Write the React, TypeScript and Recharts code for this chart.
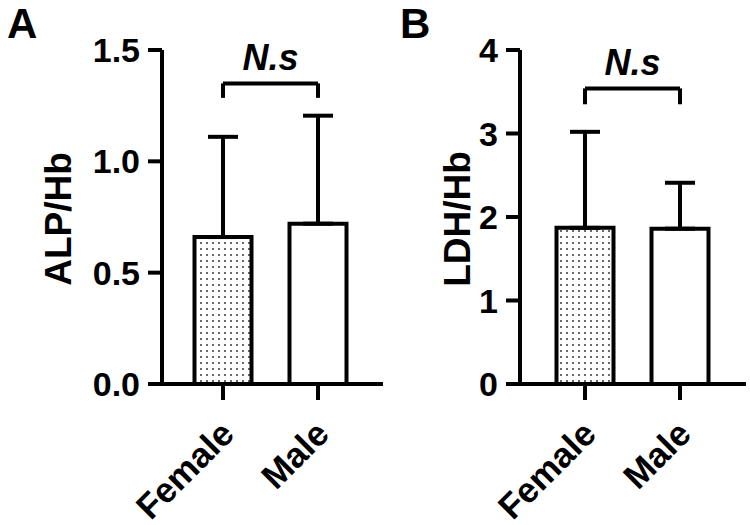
import React from 'react';
import { BarChart, Bar, XAxis, YAxis, ErrorBar, Cell, ReferenceLine } from 'recharts';

const categories = ['Female', 'Male'];
const alpMean = [0.66, 0.72];
const alpSD = [0.45, 0.485];
const ldhMean = [1.87, 1.86];
const ldhSD = [1.15, 0.55];
const alpTicks = [0, 0.5, 1.0, 1.5];
const ldhTicks = [0, 1, 2, 3, 4];
const alpBracket = [1.35, 1.285];
const ldhBracket = [3.54, 3.35];
const sigLabel = 'N.s';

const FONT = '"Liberation Sans", Arial, Helvetica, sans-serif';
const FS = 34;
const XFS = 35;
const LFS = 37;

type PanelProps = {
  letter: string;
  yLabel: string;
  means: number[];
  sds: number[];
  ticks: number[];
  domain: [number, number];
  decimals: number;
  bracket: number[];
  left: number;
  width: number;
  axisW: number;
  marginRight: number;
  padL: number;
  padR: number;
  labelX: number;
  letterX: number;
};

const XTick = (props: any) => {
  const { x, y, payload } = props;
  const px = x + 13;
  const py = y + 34;
  return (
    <text
      x={px}
      y={py}
      textAnchor="end"
      fontFamily={FONT}
      fontWeight="bold"
      fontSize={XFS}
      fill="#000"
      transform={`rotate(-45, ${px}, ${py})`}
    >
      {payload.value}
    </text>
  );
};

function Panel(p: PanelProps) {
  const data = categories.map((c, i) => ({ name: c, value: p.means[i], err: [0, p.sds[i]] }));
  const fills = ['url(#dots)', '#fff'];
  const yTick = { fontFamily: FONT, fontWeight: 'bold', fontSize: FS, fill: '#000' } as any;
  return (
    <div style={{ position: 'absolute', left: p.left, top: 0 }}>
      <BarChart
        width={p.width}
        height={525}
        data={data}
        margin={{ top: 50, right: p.marginRight, bottom: 0, left: 0 }}
        barSize={57}
      >
        <text x={p.letterX} y={38} fontFamily={FONT} fontWeight="bold" fontSize={42} fill="#000">
          {p.letter}
        </text>
        <XAxis
          dataKey="name"
          height={141}
          padding={{ left: p.padL, right: p.padR }}
          axisLine={{ stroke: '#000', strokeWidth: 4 }}
          tickLine={{ stroke: '#000', strokeWidth: 4 }}
          tickSize={16}
          tick={<XTick />}
          interval={0}
        />
        <YAxis
          width={p.axisW}
          domain={p.domain}
          ticks={p.ticks}
          interval={0}
          allowDataOverflow
          tickFormatter={(v: number) => v.toFixed(p.decimals)}
          axisLine={{ stroke: '#000', strokeWidth: 4 }}
          tickLine={{ stroke: '#000', strokeWidth: 4 }}
          tickSize={14}
          tickMargin={8}
          tick={yTick}
          label={(lp: any) => {
            const vb = lp.viewBox || {};
            const cy = (vb.y ?? 50) + (vb.height ?? 334) / 2 + 2;
            return (
              <text
                x={p.labelX}
                y={cy}
                textAnchor="middle"
                dominantBaseline="central"
                fontFamily={FONT}
                fontWeight="bold"
                fontSize={LFS}
                fill="#000"
                transform={`rotate(-90, ${p.labelX}, ${cy})`}
              >
                {p.yLabel}
              </text>
            );
          }}
        />
        <Bar dataKey="value" stroke="#000" strokeWidth={4} isAnimationActive={false}>
          {data.map((d, i) => (
            <Cell key={d.name} fill={fills[i]} />
          ))}
          <ErrorBar dataKey="err" width={15} strokeWidth={4} stroke="#000" direction="y" isAnimationActive={false} />
        </Bar>
        <ReferenceLine
          segment={[{ x: categories[0], y: p.bracket[0] }, { x: categories[1], y: p.bracket[0] }]}
          stroke="#000"
          strokeWidth={4}
          ifOverflow="visible"
          label={(lp: any) => {
            const vb = lp.viewBox || {};
            const cx = (vb.x ?? 0) + (vb.width ?? 0) / 2;
            return (
              <text
                x={cx}
                y={(vb.y ?? 0) - 13}
                textAnchor="middle"
                fontFamily={FONT}
                fontWeight="bold"
                fontStyle="italic"
                fontSize={36}
                fill="#000"
              >
                {sigLabel}
              </text>
            );
          }}
        />
        <ReferenceLine
          segment={[{ x: categories[0], y: p.bracket[0] }, { x: categories[0], y: p.bracket[1] }]}
          stroke="#000"
          strokeWidth={4}
          ifOverflow="visible"
        />
        <ReferenceLine
          segment={[{ x: categories[1], y: p.bracket[0] }, { x: categories[1], y: p.bracket[1] }]}
          stroke="#000"
          strokeWidth={4}
          ifOverflow="visible"
        />
      </BarChart>
    </div>
  );
}

export default function App() {
  return (
    <div style={{ position: 'absolute', left: 0, top: 0, width: 750, height: 525, background: '#fff', overflow: 'hidden' }}>
      <svg width={0} height={0} style={{ position: 'absolute' }}>
        <defs>
          <pattern id="dots" patternUnits="userSpaceOnUse" width={6} height={6}>
            <rect x={0} y={0} width={6} height={6} fill="#fff" />
            <circle cx={3} cy={3} r={0.9} fill="#222" />
          </pattern>
        </defs>
      </svg>
      <Panel
        letter="A"
        yLabel="ALP/Hb"
        means={alpMean}
        sds={alpSD}
        ticks={alpTicks}
        domain={[0, 1.5]}
        decimals={1}
        bracket={alpBracket}
        left={0}
        width={390}
        axisW={162}
        marginRight={7}
        padL={13.5}
        padR={17.5}
        labelX={58}
        letterX={7}
      />
      <Panel
        letter="B"
        yLabel="LDH/Hb"
        means={ldhMean}
        sds={ldhSD}
        ticks={ldhTicks}
        domain={[0, 4]}
        decimals={0}
        bracket={ldhBracket}
        left={390}
        width={360}
        axisW={130}
        marginRight={4}
        padL={17.5}
        padR={18.5}
        labelX={67}
        letterX={10}
      />
    </div>
  );
}
